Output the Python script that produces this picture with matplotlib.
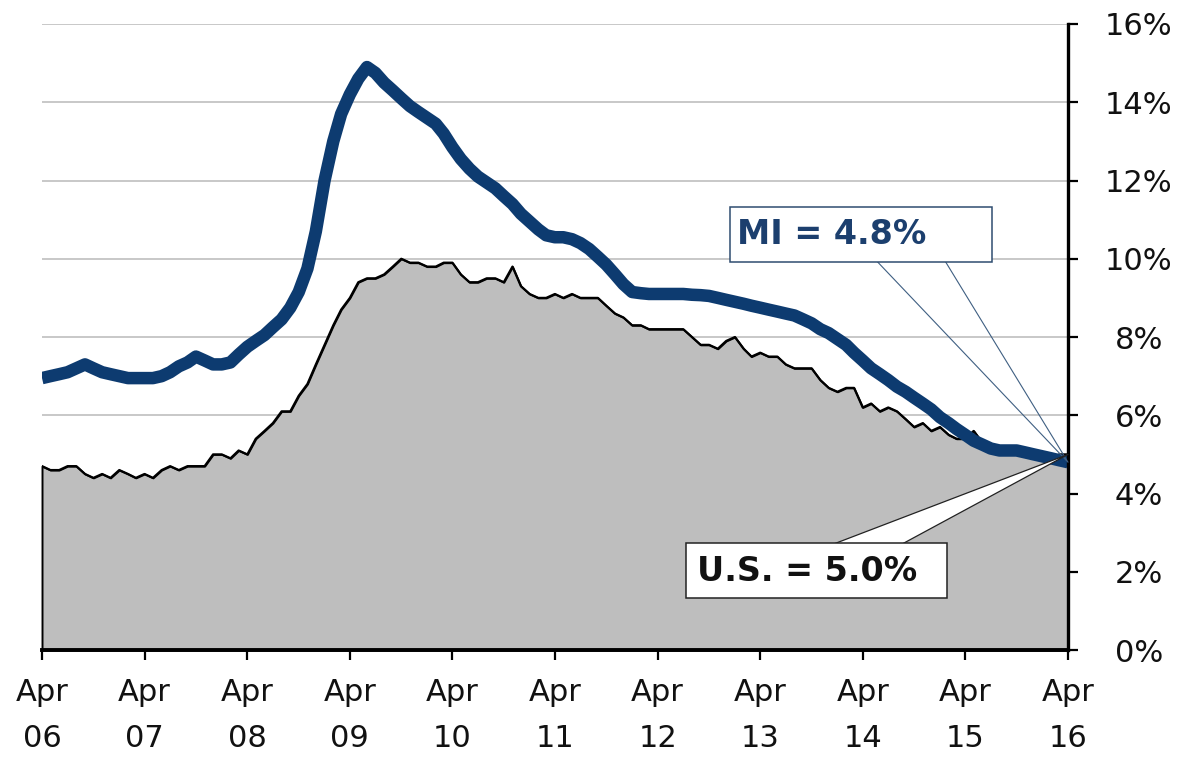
import pandas as pd
import matplotlib.pyplot as plt
from matplotlib.patches import Rectangle

months = pd.date_range("2006-04-01", "2016-04-01", freq="MS")

# Michigan unemployment rate (%), Apr 2006 - Apr 2016
mi_rate = [
    6.95, 7.0, 7.05, 7.1, 7.2, 7.3, 7.2, 7.1, 7.05,                   # 2006
    7.0, 6.95, 6.95, 6.95, 6.95, 7.0, 7.1, 7.25, 7.35, 7.5, 7.4, 7.3,  # 2007
    7.3, 7.35, 7.55, 7.75, 7.9, 8.05, 8.25, 8.45, 8.75, 9.15, 9.75, 10.7,
    12.0, 13.0, 13.7, 14.2, 14.6, 14.9, 14.75, 14.5, 14.3, 14.1, 13.9, 13.75,
    13.6, 13.45, 13.2, 12.85, 12.55, 12.3, 12.1, 11.95, 11.8, 11.6, 11.4, 11.15,
    10.95, 10.75, 10.6, 10.55, 10.55, 10.5, 10.4, 10.25, 10.05, 9.85, 9.6, 9.35,
    9.15, 9.12, 9.1, 9.1, 9.1, 9.1, 9.1, 9.08, 9.07, 9.05, 9.0, 8.95,
    8.9, 8.85, 8.8, 8.75, 8.7, 8.65, 8.6, 8.55, 8.45, 8.35, 8.2, 8.1,
    7.95, 7.8, 7.6, 7.4, 7.2, 7.05, 6.9, 6.73, 6.6, 6.45, 6.3, 6.15,
    5.95, 5.8, 5.65, 5.5, 5.35, 5.25, 5.15, 5.1, 5.1, 5.1, 5.05, 5.0,
    4.95, 4.9, 4.85, 4.8,
]

# U.S. unemployment rate (%), same months
us_rate = [
    4.7, 4.6, 4.6, 4.7, 4.7, 4.5, 4.4, 4.5, 4.4,
    4.6, 4.5, 4.4, 4.5, 4.4, 4.6, 4.7, 4.6, 4.7, 4.7, 4.7, 5.0,
    5.0, 4.9, 5.1, 5.0, 5.4, 5.6, 5.8, 6.1, 6.1, 6.5, 6.8, 7.3,
    7.8, 8.3, 8.7, 9.0, 9.4, 9.5, 9.5, 9.6, 9.8, 10.0, 9.9, 9.9,
    9.8, 9.8, 9.9, 9.9, 9.6, 9.4, 9.4, 9.5, 9.5, 9.4, 9.8, 9.3,
    9.1, 9.0, 9.0, 9.1, 9.0, 9.1, 9.0, 9.0, 9.0, 8.8, 8.6, 8.5,
    8.3, 8.3, 8.2, 8.2, 8.2, 8.2, 8.2, 8.0, 7.8, 7.8, 7.7, 7.9,
    8.0, 7.7, 7.5, 7.6, 7.5, 7.5, 7.3, 7.2, 7.2, 7.2, 6.9, 6.7,
    6.6, 6.7, 6.7, 6.2, 6.3, 6.1, 6.2, 6.1, 5.9, 5.7, 5.8, 5.6,
    5.7, 5.5, 5.4, 5.4, 5.6, 5.3, 5.2, 5.1, 5.0, 5.0, 5.1, 5.0,
    4.9, 4.9, 5.0, 5.0,
]

year_labels = ["06", "07", "08", "09", "10", "11", "12", "13", "14", "15", "16"]
pct_ticks = [0, 2, 4, 6, 8, 10, 12, 14, 16]

navy = "#0d3b70"
fill_grey = "#bebebe"

fig = plt.figure(figsize=(11.8, 7.57), dpi=100)
ax = fig.add_axes([0.0356, 0.1413, 0.8695, 0.8270])

ax.fill_between(months, us_rate, 0, facecolor=fill_grey, edgecolor="black",
                linewidth=1.4, zorder=1, clip_on=False)
ax.plot(months, us_rate, color="black", lw=1.6, zorder=2)
ax.plot(months, mi_rate, color=navy, lw=9, solid_capstyle="butt",
        solid_joinstyle="round", zorder=4)

ax.set_xlim(months[0], months[-1])
ax.set_ylim(0, 16)

aprils = [d for d in months if d.month == 4]
ax.set_xticks(aprils)
ax.set_xticklabels(["Apr\n" + y for y in year_labels], fontsize=22,
                   linespacing=1.75, color="#111111")
ax.yaxis.tick_right()
ax.set_yticks(pct_ticks)
ax.set_yticklabels([f"{v}%" for v in pct_ticks], fontsize=22, color="#111111",
                   ha="center")
ax.tick_params(axis="x", length=7, width=1.6, pad=13, direction="out")
ax.tick_params(axis="y", length=7, width=1.6, pad=44, direction="out")

ax.yaxis.grid(True, color="#c4c4c4", lw=1.3)
ax.set_axisbelow(True)

for side in ["left", "top"]:
    ax.spines[side].set_visible(False)
ax.spines["bottom"].set_linewidth(2.8)
ax.spines["right"].set_linewidth(2.4)
ax.spines["bottom"].set_zorder(5)
ax.spines["right"].set_zorder(5)

# callout wedges pointing at the latest month, starting inside their boxes
ax.annotate("", xy=(months[-1], mi_rate[-1]), xytext=(0.8294, 0.6645),
            textcoords="axes fraction", annotation_clip=False, zorder=6,
            arrowprops=dict(arrowstyle="wedge,tail_width=4.4", mutation_scale=10,
                            fc="none", ec="#3f5f82", lw=0.8,
                            shrinkA=0, shrinkB=0))
ax.annotate("", xy=(months[-1], us_rate[-1]), xytext=(0.7544, 0.1278),
            textcoords="axes fraction", annotation_clip=False, zorder=6,
            arrowprops=dict(arrowstyle="wedge,tail_width=2.6", mutation_scale=10,
                            fc="white", ec="#222222", lw=0.9,
                            shrinkA=0, shrinkB=0))

ax.add_patch(Rectangle((0.6706, 0.6198), 0.2554, 0.0879, transform=ax.transAxes,
                       fc="white", ec="#2f4d70", lw=1.1, zorder=7, clip_on=False))
ax.text(0.6774, 0.6645, "MI = 4.8%", transform=ax.transAxes, fontsize=24,
        fontweight="bold", color="#1c3f6e", ha="left", va="center", zorder=8)

ax.add_patch(Rectangle((0.6277, 0.0831), 0.2544, 0.0878, transform=ax.transAxes,
                       fc="white", ec="#222222", lw=1.1, zorder=7, clip_on=False))
ax.text(0.6384, 0.1250, "U.S. = 5.0%", transform=ax.transAxes, fontsize=24,
        fontweight="bold", color="#111111", ha="left", va="center", zorder=8)

fig.savefig("out.png", dpi=100, facecolor="white")
